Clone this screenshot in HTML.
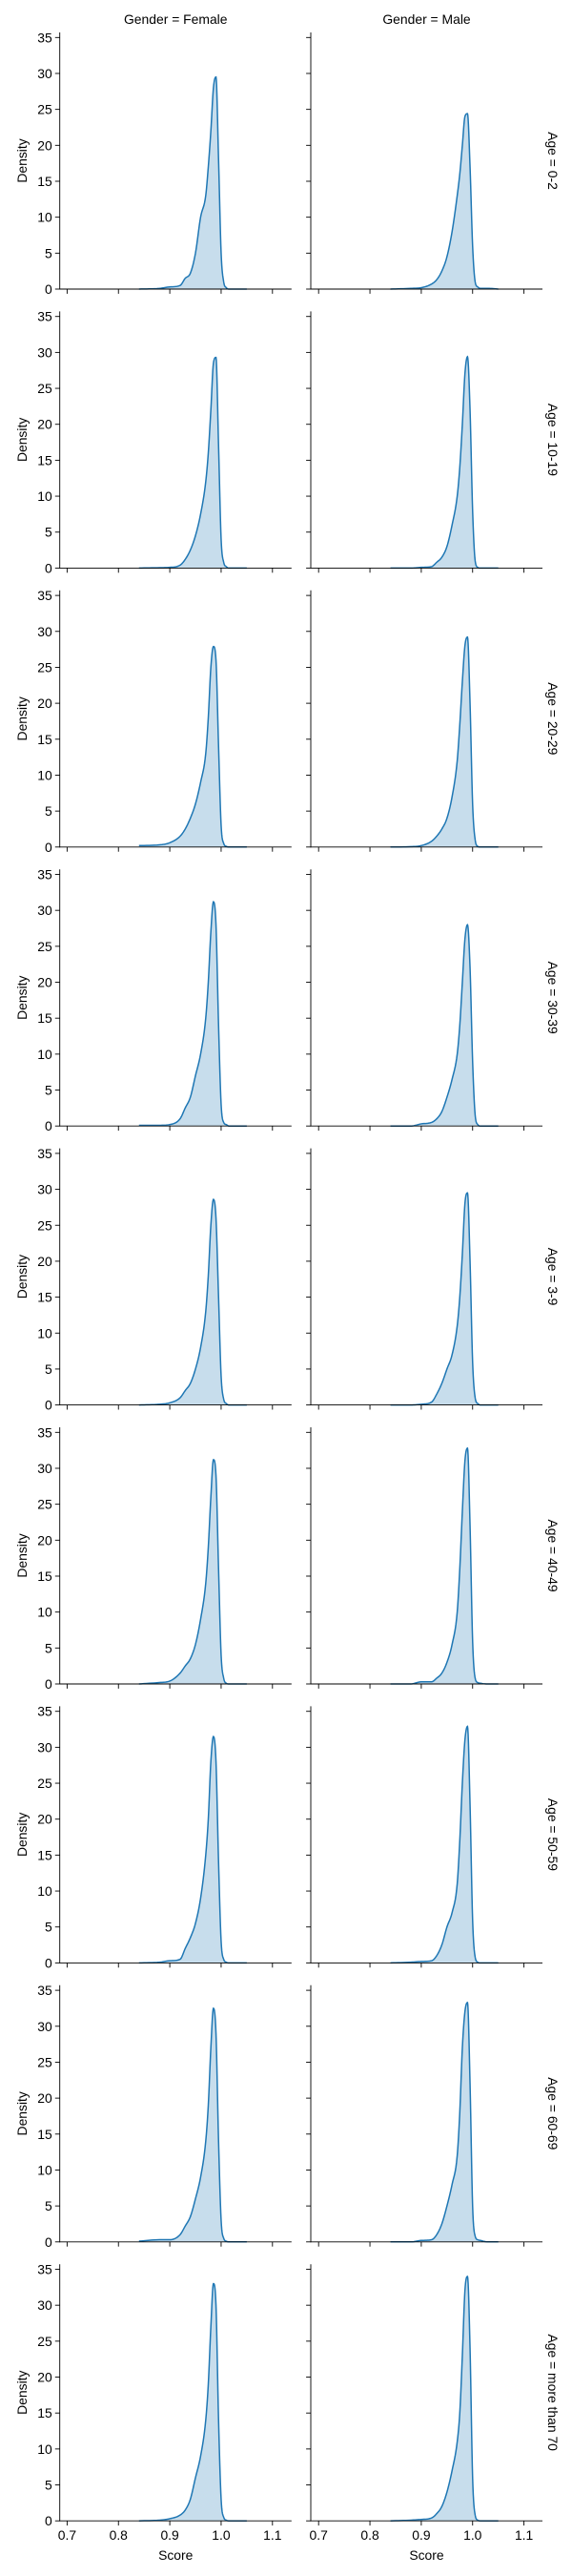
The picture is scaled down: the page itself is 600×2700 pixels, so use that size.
<!DOCTYPE html>
<html><head><meta charset="utf-8"><style>
html,body{margin:0;padding:0;background:#fff}
svg{display:block}
text{font-family:"Liberation Sans","DejaVu Sans",sans-serif;fill:#000}
</style></head><body>
<svg id="fig" width="600" height="2700" viewBox="0 0 600 2700" xmlns="http://www.w3.org/2000/svg"></svg>
<script>
const ages = ["0-2","10-19","20-29","30-39","3-9","40-49","50-59","60-69","more than 70"];
const genders = ["Female","Male"];
const scoreGrid = [0.84,0.88,0.90,0.92,0.93,0.94,0.95,0.96,0.97,0.975,0.98,0.985,0.99,0.995,1.0,1.005,1.01,1.015,1.03,1.05];
const xTicks = [0.7,0.8,0.9,1.0,1.1];
const xTickLabels = ["0.7","0.8","0.9","1.0","1.1"];
const yTicks = [0,5,10,15,20,25,30,35];
const female0 = [0,0.1,0.3,0.5,1.5,2.2,5,10,13,17,22,28,29.5,18,5,1,0.2,0,0,0];
const male0   = [0,0.1,0.2,0.7,1.3,2.5,4.5,8,13,16,20,24,24.4,17,6,1,0.3,0.1,0.1,0];
const female1 = [0,0.05,0.1,0.4,1.2,2.5,4.5,7.5,12,16,22,28.5,29.3,17,4,0.8,0.2,0,0,0];
const male1   = [0,0,0.1,0.2,0.8,1.5,3,6,10,14,20,27,29.4,22,8,1,0.1,0,0,0];
const female2 = [0.2,0.3,0.6,1.5,2.5,4,6,9,13,18,25,27.9,26,14,3,0.5,0.1,0,0,0];
const male2   = [0,0.05,0.2,0.8,1.5,2.5,4,7,12,17,23,28,29.2,20,6,1,0.1,0,0,0];
const female3 = [0.1,0.1,0.2,1,2.5,4,7,10,15,20,27,31.2,28,14,3,0.5,0.2,0,0,0];
const male3   = [0,0,0.3,0.5,1,2,4,6.5,10,14,20,26,28,22,9,1.5,0.2,0,0,0];
const female4 = [0,0.1,0.3,1,2,3,5,8,13,18,25,28.6,26,15,4,0.8,0.2,0,0,0];
const male4   = [0,0,0.1,0.4,1.5,3,5,7,11,15,21,28,29.5,20,6,1,0.2,0,0,0];
const female5 = [0,0.2,0.4,1.5,2.5,3.5,5.5,9,14,19,26,31.2,29,16,4,0.8,0.1,0,0,0];
const male5   = [0,0,0.3,0.3,0.8,1.5,3,5.5,10,16,24,31,32.8,22,6,0.8,0.2,0.1,0,0];
const female6 = [0,0.1,0.3,0.5,2,3.5,5.5,9,15,20,28,31.5,28,14,3,0.5,0.1,0,0,0];
const male6   = [0,0.1,0.2,0.3,1,2.5,5,7,11,17,25,31,32.9,22,6,0.8,0.1,0,0,0];
const female7 = [0.1,0.3,0.3,1,2.2,3.5,6,9,14,19,27,32.5,29,14,3,0.5,0.1,0,0,0];
const male7   = [0,0,0.2,0.3,1,2.5,5,8,12,18,27,32,33.3,22,5,0.8,0.3,0.2,0,0];
const female8 = [0,0.1,0.3,0.8,1.5,3,6,9,14,19,27,33,30,14,3,0.5,0.1,0,0,0];
const male8   = [0,0.1,0.2,0.4,1,2,4,7,11,15,23,32,34,24,6,0.8,0.1,0,0,0];
const series = [[female0,male0],[female1,male1],[female2,male2],[female3,male3],[female4,male4],[female5,male5],[female6,male6],[female7,male7],[female8,male8]];

const NS="http://www.w3.org/2000/svg";
const svg=document.getElementById('fig');
const colLeft=[62.7,326], colRight=[305.8,569], x07=[70.4,334.2];
const pxPer01=53.85, rowStep=292.4, row0Bottom=303, axH=269, pxPerUnit=37.67/5;
function X(c,v){return x07[c]+(v-0.7)/0.1*pxPer01;}
function Y(r,v){return row0Bottom+r*rowStep-v*pxPerUnit;}
function el(tag,attrs,parent){const e=document.createElementNS(NS,tag);for(const k in attrs)e.setAttribute(k,attrs[k]);(parent||svg).appendChild(e);return e;}
function monotone(xs,ys){
  const n=xs.length,d=[],m=[];
  for(let i=0;i<n-1;i++)d.push((ys[i+1]-ys[i])/(xs[i+1]-xs[i]));
  m[0]=d[0];m[n-1]=d[n-2];
  for(let i=1;i<n-1;i++){m[i]=(d[i-1]*d[i]<=0)?0:(d[i-1]+d[i])/2;}
  for(let i=0;i<n-1;i++){if(d[i]===0){m[i]=0;m[i+1]=0;continue;}const a=m[i]/d[i],b=m[i+1]/d[i],s=a*a+b*b;if(s>9){const t=3/Math.sqrt(s);m[i]=t*a*d[i];m[i+1]=t*b*d[i];}}
  const out=[];
  for(let i=0;i<n-1;i++){const h=xs[i+1]-xs[i];for(let k=0;k<8;k++){const t=k/8,t2=t*t,t3=t2*t;
    const v=(2*t3-3*t2+1)*ys[i]+(t3-2*t2+t)*h*m[i]+(-2*t3+3*t2)*ys[i+1]+(t3-t2)*h*m[i+1];
    out.push([xs[i]+t*h,Math.max(0,v)]);}}
  out.push([xs[n-1],ys[n-1]]);return out;
}
for(let c=0;c<2;c++){
  const t=el('text',{x:(colLeft[c]+colRight[c])/2,y:25,'text-anchor':'middle','font-size':'13.9'});
  
  
  t.textContent='Gender = '+genders[c];
}
for(let r=0;r<ages.length;r++){
  const bottom=Y(r,0), top=bottom-axH, mid=(top+bottom)/2;
  for(let c=0;c<2;c++){
    const g=el('g',{});
    
    
    const pts=monotone(scoreGrid,series[r][c]);
    let d='M'+pts.map(p=>X(c,p[0]).toFixed(2)+','+Y(r,p[1]).toFixed(2)).join('L');
    const fill=el('path',{d:d+'L'+X(c,scoreGrid[scoreGrid.length-1]).toFixed(2)+','+bottom+'L'+X(c,scoreGrid[0]).toFixed(2)+','+bottom+'Z',fill:'rgba(31,119,180,0.25)',stroke:'none'},g);
    
    
    const line=el('path',{d:d,fill:'none',stroke:'#1f77b4','stroke-width':'1.5'},g);
    
    
    el('line',{x1:colLeft[c],y1:top,x2:colLeft[c],y2:bottom+0.4,stroke:'#000','stroke-width':'0.9'},g);
    el('line',{x1:colLeft[c]-0.4,y1:bottom,x2:colRight[c],y2:bottom,stroke:'#000','stroke-width':'0.9'},g);
    for(const v of yTicks){
      const y=Y(r,v);
      el('line',{x1:colLeft[c]-4.9,y1:y,x2:colLeft[c],y2:y,stroke:'#000','stroke-width':'0.9'},g);
      if(c===0){const t=el('text',{x:colLeft[c]-8,y:y+5,'text-anchor':'end','font-size':'13.9'},g);
        
        
        t.textContent=v;}
    }
    for(let i=0;i<xTicks.length;i++){
      const x=X(c,xTicks[i]);
      el('line',{x1:x,y1:bottom,x2:x,y2:bottom+4.9,stroke:'#000','stroke-width':'0.9'},g);
      if(r===ages.length-1){const t=el('text',{x:x,y:bottom+20,'text-anchor':'middle','font-size':'13.9'},g);
        
        
        t.textContent=xTickLabels[i];}
    }
    if(r===ages.length-1){const t=el('text',{x:(colLeft[c]+colRight[c])/2,y:bottom+41,'text-anchor':'middle','font-size':'13.9'});
      
      
      t.textContent='Score';}
  }
  const yl=el('text',{x:0,y:0,'text-anchor':'middle','font-size':'13.9',transform:`translate(28,${mid}) rotate(-90)`});
  
  
  yl.textContent='Density';
  const rl=el('text',{x:0,y:0,'text-anchor':'middle','font-size':'13.9',transform:`translate(575,${mid}) rotate(90)`});
  
  
  rl.textContent='Age = '+ages[r];
}
</script>
</body></html>
